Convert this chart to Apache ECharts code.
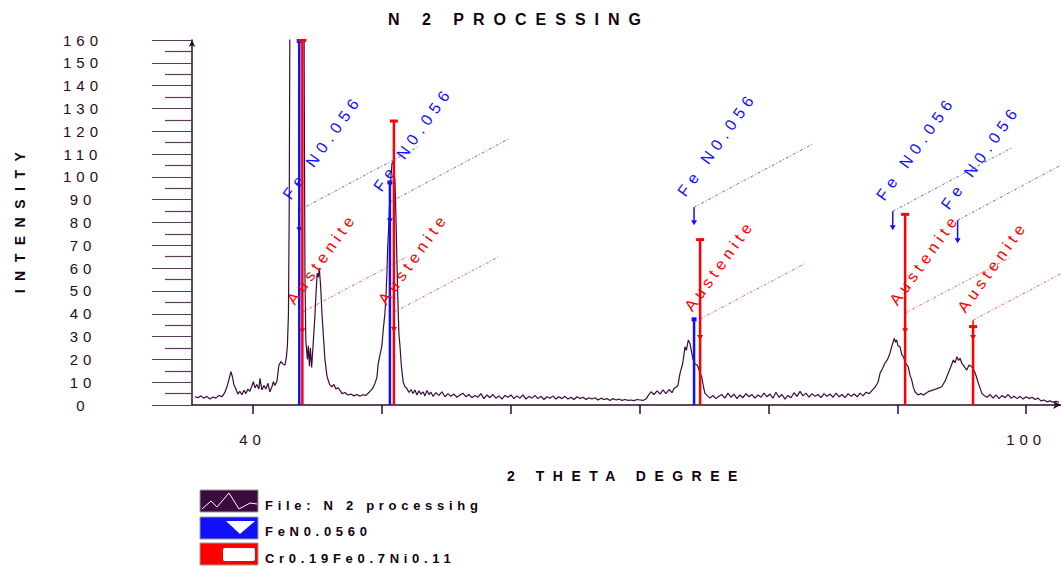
<!DOCTYPE html>
<html><head><meta charset="utf-8">
<script src="https://cdn.jsdelivr.net/npm/echarts@6/dist/echarts.min.js"></script>
<style>
html,body{margin:0;padding:0;background:#fff;}
#chart{width:1061px;height:566px;}
text[style*="tagtitle"]{letter-spacing:9px;}
text[style*="tagname"]{letter-spacing:8.5px;}
text[style*="tagaxis"]{letter-spacing:5px;}
text[style*="tagblue"]{letter-spacing:5.5px;}
text[style*="tagred"]{letter-spacing:4.6px;}
text[style*="taglegend"]{letter-spacing:4.7px;}
</style></head>
<body><div id="chart"></div>
<script>
// ---- data ----
const twoTheta = [
35.52,35.76,35.99,36.22,36.45,36.69,36.92,37.15,37.39,37.62,37.85,38.01,38.16,38.32,38.43,38.55,38.70,38.86,39.01,39.17,
39.33,39.48,39.64,39.79,39.95,40.06,40.18,40.33,40.49,40.57,40.72,40.88,41.03,41.19,41.34,41.50,41.61,41.73,41.89,42.04,
42.20,42.35,42.51,42.62,42.70,42.78,42.84,42.88,42.95,43.45,43.95,44.00,44.06,44.13,44.25,44.32,44.41,44.48,44.58,44.70,
44.83,44.93,45.01,45.10,45.17,45.28,45.38,45.46,45.61,45.76,45.88,46.00,46.15,46.31,46.46,46.62,46.77,46.93,47.16,47.39,
47.63,47.86,48.09,48.32,48.56,48.79,49.02,49.18,49.33,49.48,49.64,49.74,49.88,50.03,50.13,50.26,50.34,50.42,50.47,50.57,
50.65,50.73,50.81,50.91,50.98,51.04,51.12,51.17,51.24,51.30,51.35,51.43,51.54,51.68,51.82,51.95,52.13,52.28,52.44,52.59,
52.75,52.90,53.06,53.21,53.37,53.52,53.68,53.83,53.99,54.22,54.45,54.69,54.92,55.15,55.38,55.62,55.85,56.08,56.31,56.55,
56.78,57.01,57.24,57.48,57.71,57.94,58.18,58.41,58.64,58.87,59.11,59.34,59.57,59.81,60.04,60.27,60.50,60.74,60.97,61.20,
61.44,61.67,61.90,62.13,62.37,62.60,62.83,63.06,63.30,63.53,63.76,64.00,64.23,64.46,64.69,64.93,65.16,65.39,65.63,65.86,
66.09,66.32,66.56,66.79,67.02,67.25,67.49,67.72,67.95,68.19,68.42,68.65,68.88,69.12,69.35,69.58,69.82,70.05,70.28,70.51,
70.67,70.90,71.13,71.37,71.60,71.83,72.06,72.30,72.53,72.68,72.89,72.99,73.15,73.36,73.54,73.65,73.79,73.92,74.06,74.16,
74.31,74.47,74.57,74.69,74.83,74.97,75.08,75.24,75.47,75.70,75.93,76.17,76.40,76.63,76.87,77.10,77.33,77.57,77.80,78.03,
78.26,78.50,78.73,78.96,79.20,79.43,79.66,79.89,80.13,80.36,80.59,80.83,81.06,81.29,81.53,81.76,81.99,82.22,82.46,82.69,
82.92,83.16,83.39,83.62,83.86,84.09,84.32,84.55,84.79,85.02,85.25,85.49,85.72,85.95,86.19,86.42,86.65,86.89,87.12,87.35,
87.58,87.82,88.05,88.28,88.51,88.67,88.86,89.05,89.25,89.44,89.59,89.77,89.86,89.95,90.05,90.21,90.36,90.47,90.68,90.85,
90.99,91.12,91.26,91.38,91.61,91.84,92.03,92.23,92.46,92.80,93.08,93.45,93.71,93.96,94.17,94.35,94.48,94.62,94.76,94.87,
95.00,95.18,95.39,95.57,95.78,95.92,96.04,96.19,96.29,96.42,96.56,96.73,96.97,97.20,97.43,97.66,97.90,98.13,98.36,98.60,
98.83,99.06,99.29,99.53,99.76,99.99,100.22,100.46,100.69,100.92,101.15,101.39,101.62,101.85,102.08,102.32,102.55
];
const intensity = [
3.6,3.2,4.0,3.0,3.8,2.6,3.5,3.0,4.2,3.6,5.5,8.0,11.0,14.6,12.5,9.0,7.0,4.8,6.0,4.5,
6.5,5.0,7.0,6.0,8.5,10.2,7.5,9.0,7.0,11.7,6.6,8.5,7.0,9.5,5.8,8.0,10.2,8.5,10.5,17.5,
19.0,18.0,17.5,21.0,26.0,40.0,85.0,150,300,420,300,150,57,28,20,26,17,25,16.5,27,
38.7,50,57.8,56,60,52,40,33,20,13,10.5,8.8,8.0,9.0,7.0,7.6,6.5,5.0,5.5,4.4,
4.8,4.0,4.6,3.8,4.5,4.2,5.5,6.4,7.5,9.3,12,18,22,26,32.8,40,47,58,68,80,
91,100,105.8,106.7,102,98.5,82,69,52,40,31,26,17,10,8,7.4,5.5,6.8,5.0,6.6,
4.4,6.2,4.8,5.8,4.0,6.4,4.6,5.6,3.8,5.4,4.2,5.8,3.6,5.0,3.8,4.8,3.4,4.4,5.2,3.6,
4.6,3.2,4.2,3.4,5.0,2.8,4.4,3.2,4.6,3.0,4.0,2.6,4.2,3.4,4.4,2.8,4.0,3.0,4.4,2.6,
3.8,3.0,4.2,2.8,3.8,2.4,3.6,3.0,4.0,2.6,3.6,2.8,3.8,2.6,3.4,2.4,3.6,2.8,3.4,2.4,
3.2,2.6,3.2,2.2,3.0,2.4,2.8,2.0,2.8,2.2,2.6,2.0,2.4,2.0,2.2,1.9,2.4,2.2,2.0,2.6,
4.0,5.8,4.6,6.2,4.8,6.6,5.0,6.8,5.4,7.2,8.0,8.6,13.9,18.2,25.5,24,28.5,27,23,20,
18,17.5,16.5,14,12.4,8.0,5.2,4.2,3.0,4.2,2.8,3.8,4.6,3.0,5.2,3.4,4.8,2.8,4.4,3.2,
5.0,3.6,4.6,3.0,4.4,3.4,5.2,3.6,4.8,3.0,5.6,3.4,4.6,2.6,4.2,3.2,5.4,3.8,6.0,4.0,
5.2,3.4,5.0,3.8,4.6,3.2,5.0,3.8,4.8,3.4,5.2,3.6,4.6,3.2,5.0,3.8,4.8,3.6,5.2,4.0,
5.6,5.0,6.4,7.8,10,14,16,18.4,20,22.8,26,29.2,27.5,28.5,26,25.5,22,21.2,18,16.8,
13,11,7.5,5.8,4.4,5.0,4.4,5.2,6.0,6.6,7.2,8.0,10.5,14,17,19.7,18.5,21.2,19.5,20.5,
18.4,17,15.3,17.5,16.8,15.5,14,11.5,9.5,7.5,5.1,4.2,3.4,4.6,3.0,4.4,2.8,4.2,3.2,4.6,
3.0,3.8,2.8,3.8,2.6,3.6,2.8,3.4,2.4,3.0,1.8,2.2,1.4,1.8,1.2,1.6,1.2
];
// FeN0.056 reference sticks
const fenTheta   = [43.62, 50.65, 74.24, 89.65, 94.68];
const fenHeight  = [300, 98, 38, 0, 0];
const fenLabelAt = [85.4, 88.9, 86.7, 84.9, 81.0];
const fenArrowAt = [75.7, 79.7, 78.8, 76.6, 70.9];
const fenLabel = 'Fe N0.056';
// Austenite (Cr0.19Fe0.7Ni0.11) reference sticks
const ausTheta   = [43.86, 50.96, 74.71, 90.61, 95.88];
const ausHeight  = [300, 124.7, 72.7, 83.8, 34.6];
const ausLabelAt = [40.7, 40.7, 37.7, 40.3, 37.2];
const ausArrowAt = [31.5, 32.0, 28.5, 31.5, 28.5];
const ausLabel = 'Austenite';
// axes
const xMin = 35.3, xMax = 102.7;
const yMin = 0, yMax = 160, yStep = 10;
const xTickValues = [40, 50, 60, 70, 80, 90, 100];
const xLabelValues = [40, 100];
const titleText = 'N 2 PROCESSING';
const xName = '2 THETA DEGREE';
const yName = 'INTENSITY';
const legendNames = ['File: N 2 processihg', 'FeN0.0560', 'Cr0.19Fe0.7Ni0.11'];

// ---- chart ----
const FONT = 'Liberation Sans';
const DARK = '#2a0a2a';
const CURVE = '#3c0a3c';
const BLUE = '#1010ff';
const RED = '#ff0000';
const ANGLE = 54.5 * Math.PI / 180;

function stickRenderer(color, stickW, text, tag, capW, capH, dx, dy, tox, toy) {
  return function (params, api) {
    const t = api.value(0), h = api.value(1), la = api.value(2), ar = api.value(3);
    const children = [];
    if (h > 0) {
      const b = api.coord([t, 0]);
      const tp = api.coord([t, Math.min(h, yMax)]);
      children.push({type: 'line', shape: {x1: b[0], y1: b[1], x2: tp[0], y2: tp[1]},
        style: {stroke: color, lineWidth: stickW}});
      children.push({type: 'rect', shape: {x: tp[0] - capW / 2, y: tp[1] - 1, width: capW, height: capH},
        style: {fill: color}});
    }
    const s = api.coord([t, la]);
    const a = api.coord([t, ar]);
    children.push({type: 'line', shape: {x1: s[0], y1: s[1], x2: a[0], y2: a[1] - 4},
      style: {stroke: color, lineWidth: 1.5}});
    children.push({type: 'polygon', shape: {points: [[a[0] - 3, a[1] - 5], [a[0] + 3, a[1] - 5], [a[0], a[1]]]},
      style: {fill: color}});
    children.push({type: 'line', shape: {x1: s[0], y1: s[1], x2: s[0] + dx, y2: s[1] - dy},
      style: {stroke: color, lineWidth: 0.8, opacity: 0.8, lineDash: [3, 2, 1, 2]}});
    children.push({type: 'text', x: s[0] + tox, y: s[1] + toy, rotation: ANGLE,
      style: {text: text, fill: color, fontSize: 16, fontFamily: FONT + ', ' + tag,
        align: 'left', verticalAlign: 'bottom'}});
    return {type: 'group', children: children};
  };
}

const chart = echarts.init(document.getElementById('chart'), null, {renderer: 'svg'});
chart.setOption({
  animation: false,
  backgroundColor: '#ffffff',
  title: {
    text: titleText, left: 519, top: 11, padding: 0, textAlign: 'center',
    textStyle: {fontSize: 16, fontWeight: 'bold', color: '#140014', fontFamily: FONT + ', tagtitle'}
  },
  grid: {left: 192, right: 0, top: 40, bottom: 161, containLabel: false},
  xAxis: {
    type: 'value', min: xMin, max: xMax,
    name: xName, nameLocation: 'middle', nameGap: 64,
    nameTextStyle: {fontSize: 14, fontWeight: 'bold', color: '#140014', fontFamily: FONT + ', tagname'},
    axisLine: {show: true, symbol: ['none', 'arrow'], symbolSize: [6, 8], lineStyle: {color: DARK, width: 1.5}},
    axisTick: {show: true, customValues: xTickValues, length: 9, lineStyle: {color: DARK, width: 1.5}},
    axisLabel: {show: true, customValues: xLabelValues, margin: 27, fontSize: 15, color: DARK,
      fontFamily: FONT + ', tagaxis'},
    splitLine: {show: false}
  },
  yAxis: {
    type: 'value', min: yMin, max: yMax, interval: yStep,
    name: yName, nameLocation: 'middle', nameGap: 165, nameRotate: 90,
    nameTextStyle: {fontSize: 14, fontWeight: 'bold', color: '#140014', fontFamily: FONT + ', tagname',
      padding: [0, 0, 0, 8]},
    axisLine: {show: true, symbol: ['none', 'arrow'], symbolSize: [5, 7], lineStyle: {color: DARK, width: 1.5}},
    axisTick: {show: true, length: 40, lineStyle: {color: '#5a3a5a', width: 1.2}},
    minorTick: {show: true, splitNumber: 2, length: 27, lineStyle: {color: '#5a3a5a', width: 1.2}},
    axisLabel: {margin: 109, align: 'center', fontSize: 15, color: DARK, fontFamily: FONT + ', tagaxis'},
    splitLine: {show: false}
  },
  series: [
    {
      type: 'line', name: legendNames[0], data: twoTheta.map((t, i) => [t, intensity[i]]),
      showSymbol: false, clip: true, z: 2,
      lineStyle: {color: CURVE, width: 1.2}
    },
    {
      type: 'custom', name: legendNames[1], z: 3,
      data: fenTheta.map((t, i) => [t, fenHeight[i], fenLabelAt[i], fenArrowAt[i]]),
      encode: {x: 0, y: 1},
      renderItem: stickRenderer(BLUE, 2.5, fenLabel, 'tagblue', 5, 4, 120, 64, -6.5, -8)
    },
    {
      type: 'custom', name: legendNames[2], z: 4,
      data: ausTheta.map((t, i) => [t, ausHeight[i], ausLabelAt[i], ausArrowAt[i]]),
      encode: {x: 0, y: 1},
      renderItem: stickRenderer(RED, 2.5, ausLabel, 'tagred', 8, 3, 106, 56, -5.5, -5)
    }
  ],
  graphic: [
    {type: 'rect', shape: {x: 200, y: 490, width: 58, height: 22}, style: {fill: '#3c0a3c', stroke: '#9a9a9a', lineWidth: 1}},
    {type: 'polyline', shape: {points: [[202, 509], [211, 501], [217, 507], [229, 493], [239, 509], [250, 503], [257, 504]]},
      style: {stroke: '#ffffff', lineWidth: 1, fill: null}},
    {type: 'rect', shape: {x: 200, y: 517, width: 58, height: 22}, style: {fill: '#1010ff', stroke: '#9a9a9a', lineWidth: 1}},
    {type: 'polygon', shape: {points: [[226, 521], [255, 521], [240, 534]]}, style: {fill: '#ffffff'}},
    {type: 'rect', shape: {x: 200, y: 543, width: 58, height: 22}, style: {fill: '#ff0000', stroke: '#9a9a9a', lineWidth: 1}},
    {type: 'rect', shape: {x: 223, y: 548, width: 32, height: 13, r: 2}, style: {fill: '#ffffff'}},
    {type: 'text', x: 265, y: 505, style: {text: legendNames[0], fill: '#140014', fontSize: 13, fontWeight: 'bold',
      fontFamily: FONT + ', taglegend', align: 'left', verticalAlign: 'middle'}},
    {type: 'text', x: 265, y: 531, style: {text: legendNames[1], fill: '#140014', fontSize: 13, fontWeight: 'bold',
      fontFamily: FONT + ', taglegend', align: 'left', verticalAlign: 'middle'}},
    {type: 'text', x: 265, y: 558, style: {text: legendNames[2], fill: '#140014', fontSize: 13, fontWeight: 'bold',
      fontFamily: FONT + ', taglegend', align: 'left', verticalAlign: 'middle'}}
  ]
});
</script></body></html>
